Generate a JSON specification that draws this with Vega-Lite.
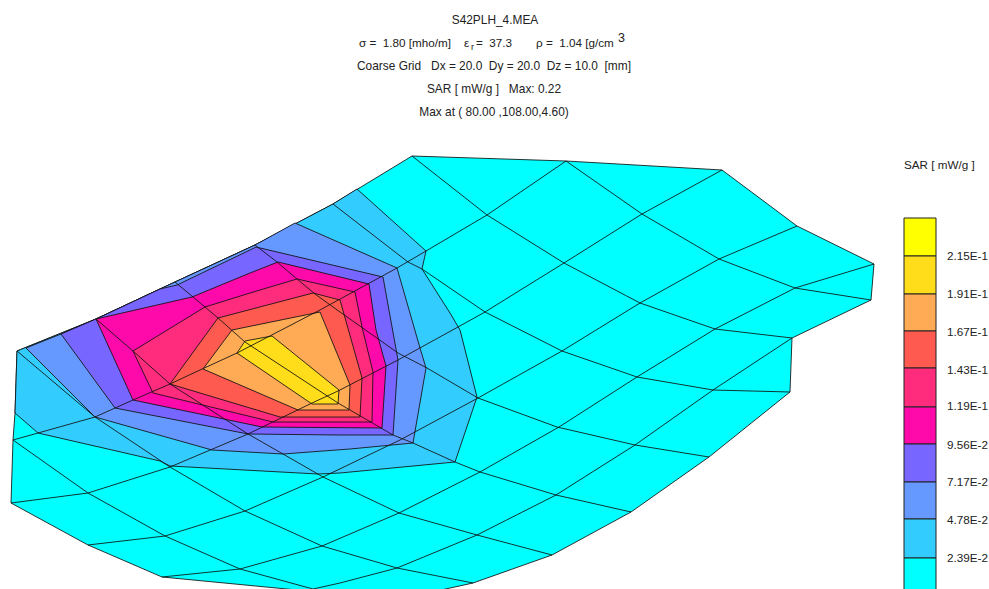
{"$schema":"https://vega.github.io/schema/vega-lite/v6.json","width":989,"height":589,"padding":0,"autosize":"none","background":"white","config":{"view":{"stroke":null}},
"datasets":{
"bands":[
{"band":"0","i":0,"x":412,"y":156},{"band":"0","i":1,"x":566,"y":161},{"band":"0","i":2,"x":722,"y":170},{"band":"0","i":3,"x":797,"y":226},{"band":"0","i":4,"x":874,"y":264},{"band":"0","i":5,"x":871,"y":300},{"band":"0","i":6,"x":792,"y":338},{"band":"0","i":7,"x":790,"y":392},{"band":"0","i":8,"x":709,"y":457},{"band":"0","i":9,"x":631,"y":512},{"band":"0","i":10,"x":552,"y":555},{"band":"0","i":11,"x":473,"y":583},{"band":"0","i":12,"x":432,"y":592},{"band":"0","i":13,"x":318,"y":592},{"band":"0","i":14,"x":162,"y":577},{"band":"0","i":15,"x":88,"y":545},{"band":"0","i":16,"x":11,"y":503},{"band":"0","i":17,"x":13,"y":440},{"band":"0","i":18,"x":15,"y":413},{"band":"0","i":19,"x":17,"y":351},{"band":"0","i":20,"x":96,"y":319},{"band":"0","i":21,"x":175,"y":282},{"band":"0","i":22,"x":255,"y":245},{"band":"0","i":23,"x":333,"y":204},{"band":"0","i":24,"x":412,"y":156},
{"band":"2.39E-2","i":0,"x":357,"y":189},{"band":"2.39E-2","i":1,"x":426,"y":251},{"band":"2.39E-2","i":2,"x":422,"y":269},{"band":"2.39E-2","i":3,"x":450,"y":313},{"band":"2.39E-2","i":4,"x":460,"y":330},{"band":"2.39E-2","i":5,"x":477,"y":397},{"band":"2.39E-2","i":6,"x":455,"y":462},{"band":"2.39E-2","i":7,"x":340,"y":473},{"band":"2.39E-2","i":8,"x":318,"y":474},{"band":"2.39E-2","i":9,"x":170,"y":466},{"band":"2.39E-2","i":10,"x":160,"y":461},{"band":"2.39E-2","i":11,"x":38,"y":433},{"band":"2.39E-2","i":12,"x":15,"y":413},{"band":"2.39E-2","i":13,"x":17,"y":351},{"band":"2.39E-2","i":14,"x":96,"y":319},{"band":"2.39E-2","i":15,"x":175,"y":282},{"band":"2.39E-2","i":16,"x":255,"y":245},{"band":"2.39E-2","i":17,"x":333,"y":204},{"band":"2.39E-2","i":18,"x":357,"y":189},
{"band":"4.78E-2","i":0,"x":26,"y":348},{"band":"4.78E-2","i":1,"x":95,"y":417},{"band":"4.78E-2","i":2,"x":212,"y":450},{"band":"4.78E-2","i":3,"x":283,"y":454},{"band":"4.78E-2","i":4,"x":350,"y":449},{"band":"4.78E-2","i":5,"x":413,"y":443},{"band":"4.78E-2","i":6,"x":426,"y":368},{"band":"4.78E-2","i":7,"x":420,"y":348},{"band":"4.78E-2","i":8,"x":397,"y":268},{"band":"4.78E-2","i":9,"x":295,"y":223},{"band":"4.78E-2","i":10,"x":255,"y":245},{"band":"4.78E-2","i":11,"x":175,"y":282},{"band":"4.78E-2","i":12,"x":96,"y":319},{"band":"4.78E-2","i":13,"x":61,"y":334},{"band":"4.78E-2","i":14,"x":26,"y":348},
{"band":"7.17E-2","i":0,"x":61,"y":334},{"band":"7.17E-2","i":1,"x":96,"y":319},{"band":"7.17E-2","i":2,"x":160,"y":289},{"band":"7.17E-2","i":3,"x":177,"y":285},{"band":"7.17E-2","i":4,"x":250,"y":250},{"band":"7.17E-2","i":5,"x":256,"y":247},{"band":"7.17E-2","i":6,"x":383,"y":277},{"band":"7.17E-2","i":7,"x":398,"y":360},{"band":"7.17E-2","i":8,"x":393,"y":435},{"band":"7.17E-2","i":9,"x":340,"y":435},{"band":"7.17E-2","i":10,"x":248,"y":434},{"band":"7.17E-2","i":11,"x":115,"y":408},{"band":"7.17E-2","i":12,"x":61,"y":334},
{"band":"9.56E-2","i":0,"x":96,"y":319},{"band":"9.56E-2","i":1,"x":192,"y":297},{"band":"9.56E-2","i":2,"x":250,"y":273},{"band":"9.56E-2","i":3,"x":278,"y":262},{"band":"9.56E-2","i":4,"x":369,"y":284},{"band":"9.56E-2","i":5,"x":376,"y":330},{"band":"9.56E-2","i":6,"x":386,"y":366},{"band":"9.56E-2","i":7,"x":382,"y":428},{"band":"9.56E-2","i":8,"x":262,"y":427},{"band":"9.56E-2","i":9,"x":133,"y":400},{"band":"9.56E-2","i":10,"x":96,"y":319},
{"band":"1.19E-1","i":0,"x":133,"y":351},{"band":"1.19E-1","i":1,"x":205,"y":307},{"band":"1.19E-1","i":2,"x":250,"y":293},{"band":"1.19E-1","i":3,"x":297,"y":279},{"band":"1.19E-1","i":4,"x":355,"y":292},{"band":"1.19E-1","i":5,"x":362,"y":327},{"band":"1.19E-1","i":6,"x":373,"y":372},{"band":"1.19E-1","i":7,"x":372,"y":422},{"band":"1.19E-1","i":8,"x":273,"y":422},{"band":"1.19E-1","i":9,"x":153,"y":393},{"band":"1.19E-1","i":10,"x":133,"y":351},
{"band":"1.43E-1","i":0,"x":170,"y":384},{"band":"1.43E-1","i":1,"x":218,"y":318},{"band":"1.43E-1","i":2,"x":313,"y":293},{"band":"1.43E-1","i":3,"x":340,"y":300},{"band":"1.43E-1","i":4,"x":362,"y":378},{"band":"1.43E-1","i":5,"x":360,"y":417},{"band":"1.43E-1","i":6,"x":280,"y":417},{"band":"1.43E-1","i":7,"x":170,"y":384},
{"band":"1.67E-1","i":0,"x":203,"y":369},{"band":"1.67E-1","i":1,"x":232,"y":330},{"band":"1.67E-1","i":2,"x":320,"y":312},{"band":"1.67E-1","i":3,"x":350,"y":385},{"band":"1.67E-1","i":4,"x":349,"y":410},{"band":"1.67E-1","i":5,"x":298,"y":410},{"band":"1.67E-1","i":6,"x":203,"y":369},
{"band":"1.91E-1","i":0,"x":237,"y":353},{"band":"1.91E-1","i":1,"x":245,"y":341},{"band":"1.91E-1","i":2,"x":272,"y":336},{"band":"1.91E-1","i":3,"x":339,"y":390},{"band":"1.91E-1","i":4,"x":338,"y":404},{"band":"1.91E-1","i":5,"x":312,"y":404},{"band":"1.91E-1","i":6,"x":237,"y":353}
],
"grid":[
{"line":"a1","i":0,"x":13,"y":440},{"line":"a1","i":1,"x":38,"y":433},{"line":"a1","i":2,"x":95,"y":417},{"line":"a1","i":3,"x":133,"y":400},{"line":"a1","i":4,"x":170,"y":384},{"line":"a1","i":5,"x":200,"y":370},{"line":"a1","i":6,"x":237,"y":353},{"line":"a1","i":7,"x":318,"y":311},{"line":"a1","i":8,"x":353,"y":292},{"line":"a1","i":9,"x":397,"y":268},{"line":"a1","i":10,"x":426,"y":251},{"line":"a1","i":11,"x":487,"y":215},{"line":"a1","i":12,"x":566,"y":161},
{"line":"a2","i":0,"x":11,"y":503},{"line":"a2","i":1,"x":88,"y":493},{"line":"a2","i":2,"x":170,"y":467},{"line":"a2","i":3,"x":248,"y":434},{"line":"a2","i":4,"x":312,"y":403},{"line":"a2","i":5,"x":338,"y":391},{"line":"a2","i":6,"x":398,"y":360},{"line":"a2","i":7,"x":458,"y":327},{"line":"a2","i":8,"x":485,"y":312},{"line":"a2","i":9,"x":564,"y":263},{"line":"a2","i":10,"x":642,"y":214},{"line":"a2","i":11,"x":722,"y":170},
{"line":"a3","i":0,"x":88,"y":545},{"line":"a3","i":1,"x":165,"y":536},{"line":"a3","i":2,"x":245,"y":511},{"line":"a3","i":3,"x":323,"y":477},{"line":"a3","i":4,"x":400,"y":440},{"line":"a3","i":5,"x":478,"y":398},{"line":"a3","i":6,"x":562,"y":351},{"line":"a3","i":7,"x":640,"y":303},{"line":"a3","i":8,"x":719,"y":259},{"line":"a3","i":9,"x":797,"y":226},
{"line":"a4","i":0,"x":162,"y":577},{"line":"a4","i":1,"x":240,"y":569},{"line":"a4","i":2,"x":322,"y":546},{"line":"a4","i":3,"x":399,"y":513},{"line":"a4","i":4,"x":480,"y":472},{"line":"a4","i":5,"x":559,"y":427},{"line":"a4","i":6,"x":637,"y":377},{"line":"a4","i":7,"x":715,"y":329},{"line":"a4","i":8,"x":795,"y":288},{"line":"a4","i":9,"x":874,"y":264},
{"line":"a5","i":0,"x":313,"y":589},{"line":"a5","i":1,"x":340,"y":583},{"line":"a5","i":2,"x":397,"y":568},{"line":"a5","i":3,"x":477,"y":535},{"line":"a5","i":4,"x":556,"y":495},{"line":"a5","i":5,"x":635,"y":445},{"line":"a5","i":6,"x":713,"y":390},{"line":"a5","i":7,"x":792,"y":338},
{"line":"b0","i":0,"x":13,"y":440},{"line":"b0","i":1,"x":88,"y":493},{"line":"b0","i":2,"x":165,"y":536},{"line":"b0","i":3,"x":240,"y":569},{"line":"b0","i":4,"x":313,"y":589},
{"line":"b1","i":0,"x":17,"y":351},{"line":"b1","i":1,"x":95,"y":417},{"line":"b1","i":2,"x":170,"y":467},{"line":"b1","i":3,"x":245,"y":511},{"line":"b1","i":4,"x":322,"y":546},{"line":"b1","i":5,"x":397,"y":568},{"line":"b1","i":6,"x":473,"y":583},
{"line":"b2","i":0,"x":96,"y":319},{"line":"b2","i":1,"x":133,"y":351},{"line":"b2","i":2,"x":170,"y":384},{"line":"b2","i":3,"x":248,"y":434},{"line":"b2","i":4,"x":283,"y":454},{"line":"b2","i":5,"x":323,"y":477},{"line":"b2","i":6,"x":399,"y":513},{"line":"b2","i":7,"x":477,"y":535},{"line":"b2","i":8,"x":552,"y":555},
{"line":"b3","i":0,"x":175,"y":282},{"line":"b3","i":1,"x":205,"y":307},{"line":"b3","i":2,"x":218,"y":318},{"line":"b3","i":3,"x":245,"y":342},{"line":"b3","i":4,"x":338,"y":403},{"line":"b3","i":5,"x":393,"y":435},{"line":"b3","i":6,"x":413,"y":443},{"line":"b3","i":7,"x":455,"y":462},{"line":"b3","i":8,"x":480,"y":472},{"line":"b3","i":9,"x":556,"y":495},{"line":"b3","i":10,"x":631,"y":512},
{"line":"b4","i":0,"x":255,"y":245},{"line":"b4","i":1,"x":277,"y":262},{"line":"b4","i":2,"x":297,"y":279},{"line":"b4","i":3,"x":315,"y":294},{"line":"b4","i":4,"x":340,"y":312},{"line":"b4","i":5,"x":398,"y":353},{"line":"b4","i":6,"x":427,"y":368},{"line":"b4","i":7,"x":478,"y":398},{"line":"b4","i":8,"x":557,"y":427},{"line":"b4","i":9,"x":635,"y":445},{"line":"b4","i":10,"x":709,"y":457},
{"line":"b5","i":0,"x":333,"y":204},{"line":"b5","i":1,"x":408,"y":262},{"line":"b5","i":2,"x":422,"y":269},{"line":"b5","i":3,"x":485,"y":312},{"line":"b5","i":4,"x":562,"y":351},{"line":"b5","i":5,"x":637,"y":377},{"line":"b5","i":6,"x":713,"y":390},{"line":"b5","i":7,"x":790,"y":392},
{"line":"b6","i":0,"x":412,"y":156},{"line":"b6","i":1,"x":487,"y":215},{"line":"b6","i":2,"x":564,"y":263},{"line":"b6","i":3,"x":640,"y":303},{"line":"b6","i":4,"x":715,"y":329},{"line":"b6","i":5,"x":792,"y":338},
{"line":"b7","i":0,"x":566,"y":161},{"line":"b7","i":1,"x":642,"y":214},{"line":"b7","i":2,"x":719,"y":259},{"line":"b7","i":3,"x":795,"y":288},{"line":"b7","i":4,"x":871,"y":300}
],
"legend":[
{"band":"2.15E-1","top":218,"bottom":256},{"band":"1.91E-1","top":256,"bottom":294},{"band":"1.67E-1","top":294,"bottom":331},{"band":"1.43E-1","top":331,"bottom":368},{"band":"1.19E-1","top":368,"bottom":407},{"band":"9.56E-2","top":407,"bottom":444},{"band":"7.17E-2","top":444,"bottom":482},{"band":"4.78E-2","top":482,"bottom":519},{"band":"2.39E-2","top":519,"bottom":558},{"band":"0","top":558,"bottom":600}
]
},
"layer":[
{"data":{"name":"bands"},"mark":{"type":"line","filled":true,"clip":true,"stroke":"#111","strokeWidth":1,"strokeOpacity":0.85,"strokeJoin":"miter"},
 "encoding":{"x":{"field":"x","type":"quantitative","scale":{"domain":[0,989],"nice":false,"zero":false},"axis":null},"y":{"field":"y","type":"quantitative","scale":{"domain":[589,0],"nice":false,"zero":false},"axis":null},"order":{"field":"i","type":"quantitative"},"detail":{"field":"band"},
 "fill":{"field":"band","type":"nominal","legend":null,"scale":{"domain":["0","2.39E-2","4.78E-2","7.17E-2","9.56E-2","1.19E-1","1.43E-1","1.67E-1","1.91E-1","2.15E-1"],"range":["#00ffff","#33ccff","#6699ff","#7766ff","#ff0aaa","#ff2c7d","#ff5a50","#ffaa55","#ffdd1a","#ffff00"]}}}},
{"data":{"name":"grid"},"mark":{"type":"line","clip":true,"stroke":"#111","strokeWidth":1,"strokeOpacity":0.85},
 "encoding":{"x":{"field":"x","type":"quantitative"},"y":{"field":"y","type":"quantitative"},"order":{"field":"i","type":"quantitative"},"detail":{"field":"line"}}},
{"data":{"name":"legend"},"mark":{"type":"rect","stroke":"#222","strokeWidth":1,"clip":true},
 "encoding":{"x":{"datum":904,"type":"quantitative"},"x2":{"datum":936},"y":{"field":"top","type":"quantitative"},"y2":{"field":"bottom"},"fill":{"field":"band","type":"nominal"}}},
{"data":{"values":[{"t":"2.15E-1","x":947,"y":256},{"t":"1.91E-1","x":947,"y":294},{"t":"1.67E-1","x":947,"y":332},{"t":"1.43E-1","x":947,"y":370},{"t":"1.19E-1","x":947,"y":406},{"t":"9.56E-2","x":947,"y":445},{"t":"7.17E-2","x":947,"y":482},{"t":"4.78E-2","x":947,"y":520},{"t":"2.39E-2","x":947,"y":558},{"t":"SAR [ mW/g ]","x":904,"y":165},{"t":"σ =\u00a0\u00a01.80 [mho/m]","x":359,"y":43},{"t":"ε","x":464,"y":43},{"t":"=\u00a0\u00a037.3","x":476,"y":43},{"t":"ρ =\u00a0\u00a01.04 [g/cm","x":536,"y":43}]},
 "mark":{"type":"text","align":"left","baseline":"middle","font":"Liberation Sans","fontSize":11.7,"color":"#222"},
 "encoding":{"x":{"field":"x","type":"quantitative"},"y":{"field":"y","type":"quantitative"},"text":{"field":"t"}}},
{"data":{"values":[{"t":"r","x":471,"y":47}]},
 "mark":{"type":"text","align":"left","baseline":"middle","font":"Liberation Sans","fontSize":9,"color":"#222"},
 "encoding":{"x":{"field":"x","type":"quantitative"},"y":{"field":"y","type":"quantitative"},"text":{"field":"t"}}},
{"data":{"values":[{"t":"3","x":618,"y":38}]},
 "mark":{"type":"text","align":"left","baseline":"middle","font":"Liberation Sans","fontSize":12.5,"color":"#222"},
 "encoding":{"x":{"field":"x","type":"quantitative"},"y":{"field":"y","type":"quantitative"},"text":{"field":"t"}}},
{"data":{"values":[{"t":"S42PLH_4.MEA","x":495,"y":20},{"t":"Coarse Grid\u00a0\u00a0\u00a0Dx = 20.0\u00a0\u00a0Dy = 20.0\u00a0\u00a0Dz = 10.0\u00a0\u00a0[mm]","x":494,"y":66},{"t":"SAR [ mW/g ]\u00a0\u00a0\u00a0Max: 0.22","x":494,"y":89},{"t":"Max at ( 80.00 ,108.00,4.60)","x":494,"y":112}]},
 "mark":{"type":"text","align":"center","baseline":"middle","font":"Liberation Sans","fontSize":11.9,"color":"#222"},
 "encoding":{"x":{"field":"x","type":"quantitative"},"y":{"field":"y","type":"quantitative"},"text":{"field":"t"}}}
]}
